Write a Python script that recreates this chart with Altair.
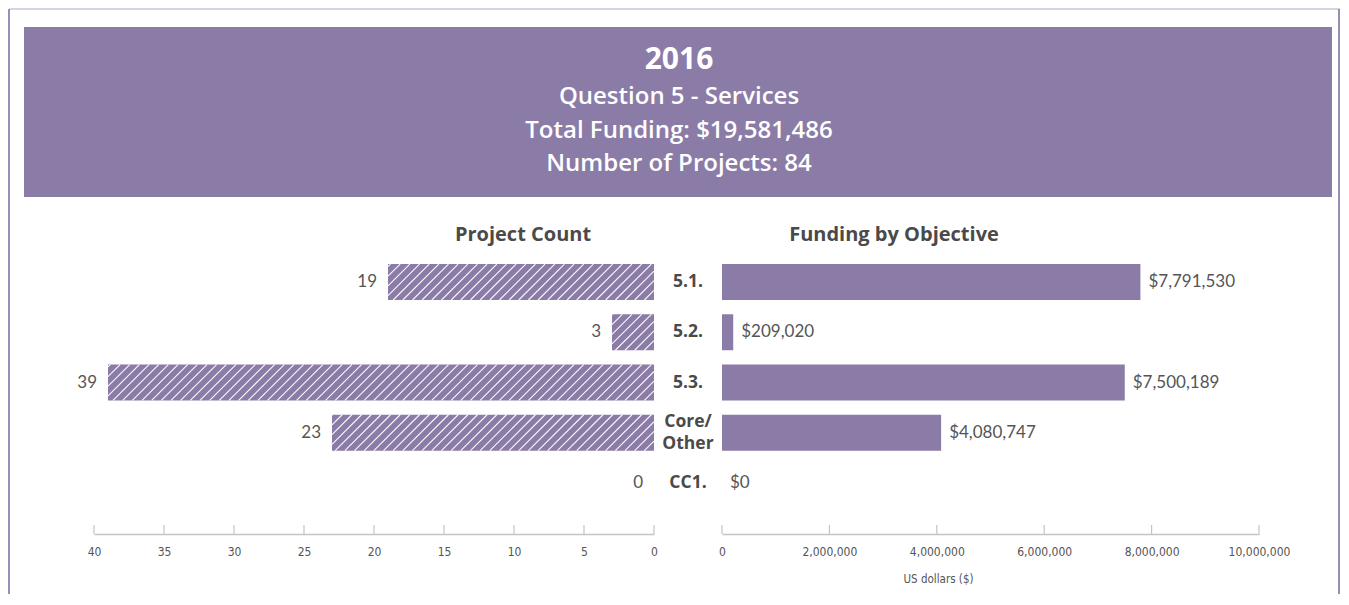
import altair as alt
import pandas as pd

# ---------------- data ----------------
categories = ["5.1.", "5.2.", "5.3.", "Core/\nOther", "CC1."]
project_counts = [19, 3, 39, 23, 0]
funding_usd = [7791530, 209020, 7500189, 4080747, 0]
count_ticks = [40, 35, 30, 25, 20, 15, 10, 5, 0]
funding_ticks = [0, 2000000, 4000000, 6000000, 8000000, 10000000]
header_lines = ["2016", "Question 5 - Services", "Total Funding: $19,581,486", "Number of Projects: 84"]
panel_titles = ["Project Count", "Funding by Objective"]
funding_axis_title = "US dollars ($)"

# ---------------- style / layout ----------------
PURPLE = "#8B7BA7"
FRAME = "#9A8DB8"
FRAME_TOP = "#CBC3DA"
TEXT = "#4A4A4A"
LABEL = "#555555"
AXIS_GREY = "#C4C4C4"
FONT = "Open Sans"
NUM_FONT = "Lato"
AXIS_FONT = "DejaVu Sans Condensed, sans-serif"

W, H = 1331, 585
L_RANGE = [645, 85]          # count scale: 0 -> 645, 40 -> 85
R_RANGE = [713, 1250]        # funding scale
Y_RANGE = [247.9, 499.1]
AXIS_Y = 525
BAR_FRAC = 0.716
half = BAR_FRAC / 2

df = pd.DataFrame({
    "idx": list(range(len(categories))),
    "cat": categories,
    "count": project_counts,
    "funding": funding_usd,
})
df["multi"] = df["cat"].str.contains("\n")

# hatch lines (derived from data and scale geometry)
row_px = (Y_RANGE[1] - Y_RANGE[0]) / len(categories)
px_per_count = (L_RANGE[0] - L_RANGE[1]) / 40.0
d = BAR_FRAC * row_px / px_per_count   # horizontal run of a 45deg line, in count units
spacing = 0.69
rows = []
for i, v in enumerate(project_counts):
    if v <= 0:
        continue
    k = 1
    while k * spacing < v + d:
        a = k * spacing
        t0 = max(0.0, (a - v) / d)
        t1 = min(1.0, a / d)
        if t1 > t0:
            rows.append({
                "v0": a - d * t0, "v1": a - d * t1,
                "y0": i + half - 2 * half * t0, "y1": i + half - 2 * half * t1,
            })
        k += 1
hatch = pd.DataFrame(rows)

ldom = alt.Scale(domain=[0, 40], range=L_RANGE, nice=False, zero=False)
rdom = alt.Scale(domain=[0, 10000000], range=R_RANGE, nice=False, zero=False)
yscale = alt.Scale(domain=[-0.5, len(categories) - 0.5], range=Y_RANGE, nice=False, zero=False)

one = pd.DataFrame({"k": [0]})
base = alt.Chart(df)

# ---------------- decorations ----------------
frame_left = alt.Chart(one).mark_rule(color=FRAME, strokeWidth=2).encode(
    x=alt.value(0), y=alt.value(0), y2=alt.value(H))
frame_right = alt.Chart(one).mark_rule(color=FRAME, strokeWidth=2).encode(
    x=alt.value(W - 1), y=alt.value(0), y2=alt.value(H))
frame_top = alt.Chart(one).mark_rule(color=FRAME_TOP, strokeWidth=1.5).encode(
    x=alt.value(0), x2=alt.value(W), y=alt.value(0))

header_box = alt.Chart(one).mark_rect(color=PURPLE).encode(
    x=alt.value(15), x2=alt.value(1323), y=alt.value(18), y2=alt.value(188))

hx = 670
header_texts = [
    alt.Chart(one).mark_text(text=header_lines[0], font=FONT, fontSize=30, fontWeight="bold",
                             color="white", align="center", baseline="middle")
    .encode(x=alt.value(hx), y=alt.value(51)),
]
for line, yy in zip(header_lines[1:], [88, 122, 155]):
    header_texts.append(
        alt.Chart(one).mark_text(text=line, font=FONT, fontSize=24, fontWeight=600,
                                 color="white", align="center", baseline="middle")
        .encode(x=alt.value(hx), y=alt.value(yy)))

headings = [
    alt.Chart(one).mark_text(text=panel_titles[0], font=FONT, fontSize=20, fontWeight="bold",
                             color=TEXT, align="center", baseline="middle")
    .encode(x=alt.value(514), y=alt.value(226)),
    alt.Chart(one).mark_text(text=panel_titles[1], font=FONT, fontSize=20, fontWeight="bold",
                             color=TEXT, align="center", baseline="middle")
    .encode(x=alt.value(885), y=alt.value(226)),
]

# ---------------- left panel ----------------
left_bars = base.mark_bar(color=PURPLE).encode(
    x=alt.X("count:Q", scale=ldom,
            axis=alt.Axis(orient="bottom", values=count_ticks, offset=AXIS_Y - H, grid=False,
                          ticks=False, tickSize=0, labelPadding=12, domainColor=AXIS_GREY,
                          domainWidth=1.5, labelFont=AXIS_FONT, labelFontSize=12,
                          labelColor=LABEL, labelFlush=False, labelOverlap=False, title=None)),
    x2=alt.value(L_RANGE[0]),
    y=alt.Y("y0:Q", scale=yscale, axis=None),
    y2="y1:Q",
).transform_calculate(y0=f"datum.idx - {half}", y1=f"datum.idx + {half}")

left_hatch = alt.Chart(hatch).mark_rule(color="white", strokeWidth=1.1, opacity=0.95).encode(
    x=alt.X("v0:Q", scale=ldom, axis=None),
    x2="v1:Q",
    y=alt.Y("y0:Q", scale=yscale, axis=None),
    y2="y1:Q",
)

left_labels = base.mark_text(font=NUM_FONT, fontSize=17, color=LABEL, align="right",
                             baseline="middle", dx=-11).encode(
    x=alt.X("count:Q", scale=ldom, axis=None),
    y=alt.Y("idx:Q", scale=yscale, axis=None),
    text=alt.Text("count:Q", format="d"),
)

left_ticks = alt.Chart(pd.DataFrame({"t": count_ticks})).mark_rule(color=AXIS_GREY, strokeWidth=1.2).encode(
    x=alt.X("t:Q", scale=ldom, axis=None), y=alt.value(AXIS_Y - 9), y2=alt.value(AXIS_Y))

# ---------------- category labels ----------------
cat_single = base.transform_filter("!datum.multi").mark_text(
    font=FONT, fontSize=17.5, fontWeight="bold", color=TEXT,
    align="center", baseline="middle").encode(
    x=alt.value(679),
    y=alt.Y("idx:Q", scale=yscale, axis=None),
    text="cat:N",
)
cat_multi = base.transform_filter("datum.multi").mark_text(
    font=FONT, fontSize=17.5, fontWeight="bold", color=TEXT,
    align="center", baseline="middle", lineBreak="\n", lineHeight=22, dy=-11).encode(
    x=alt.value(679),
    y=alt.Y("idx:Q", scale=yscale, axis=None),
    text="cat:N",
)

# ---------------- right panel ----------------
right_bars = base.mark_bar(color=PURPLE).encode(
    x=alt.X("funding:Q", scale=rdom,
            axis=alt.Axis(orient="bottom", values=funding_ticks, offset=AXIS_Y - H, grid=False,
                          ticks=False, tickSize=0, labelPadding=12, domainColor=AXIS_GREY,
                          domainWidth=1.5, labelFont=AXIS_FONT, labelFontSize=12,
                          labelColor=LABEL, labelFlush=False, labelOverlap=False, format=",d",
                          title=funding_axis_title, titleFont=AXIS_FONT, titleFontSize=11.5,
                          titleFontWeight="normal", titleColor=LABEL, titleX=929, titleY=45,
                          titleBaseline="middle", titleAlign="center")),
    x2=alt.value(R_RANGE[0]),
    y=alt.Y("y0:Q", scale=yscale, axis=None),
    y2="y1:Q",
).transform_calculate(y0=f"datum.idx - {half}", y1=f"datum.idx + {half}")

right_labels = base.mark_text(font=NUM_FONT, fontSize=17, color=LABEL, align="left",
                              baseline="middle", dx=8).encode(
    x=alt.X("funding:Q", scale=rdom, axis=None),
    y=alt.Y("idx:Q", scale=yscale, axis=None),
    text=alt.Text("funding:Q", format="$,.0f"),
)

right_ticks = alt.Chart(pd.DataFrame({"t": funding_ticks})).mark_rule(color=AXIS_GREY, strokeWidth=1.2).encode(
    x=alt.X("t:Q", scale=rdom, axis=None), y=alt.value(AXIS_Y - 9), y2=alt.value(AXIS_Y))

chart = alt.layer(
    frame_top, frame_left, frame_right, header_box, *header_texts, *headings,
    left_bars, left_hatch, left_labels, left_ticks,
    cat_single, cat_multi,
    right_bars, right_labels, right_ticks,
).resolve_scale(x="independent").resolve_axis(x="independent").properties(
    width=W, height=H, padding=0, background="white"
).configure_view(strokeWidth=0)

chart.save("out.html", embed_options={"renderer": "svg", "actions": False})
